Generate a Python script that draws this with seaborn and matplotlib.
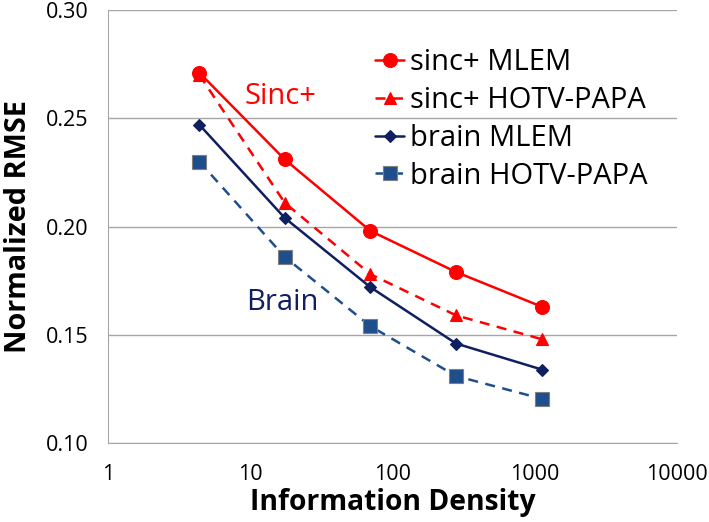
import matplotlib
matplotlib.use("Agg")
import matplotlib.pyplot as plt
import seaborn as sns
import pandas as pd

# values
density = [4.4, 17.5, 70, 280, 1120]
sinc_mlem = [0.271, 0.231, 0.198, 0.179, 0.163]
sinc_hotv = [0.270, 0.211, 0.178, 0.159, 0.148]
brain_mlem = [0.247, 0.204, 0.172, 0.146, 0.134]
brain_hotv = [0.230, 0.186, 0.154, 0.131, 0.1205]
series_names = ["sinc+ MLEM", "sinc+ HOTV-PAPA", "brain MLEM", "brain HOTV-PAPA"]

RED = "#FF0000"
NAVY = "#0F1F5F"
BLUE = "#1F4E8C"

styles = {
    "sinc+ MLEM": dict(color=RED, marker="o", ls="-", ms=10),
    "sinc+ HOTV-PAPA": dict(color=RED, marker="^", ls=(0, (4, 3)), ms=9),
    "brain MLEM": dict(color=NAVY, marker="D", ls="-", ms=6.5),
    "brain HOTV-PAPA": dict(color=BLUE, marker="s", ls=(0, (4, 3)), ms=9.5),
}

rows = []
for name, vals in zip(series_names, [sinc_mlem, sinc_hotv, brain_mlem, brain_hotv]):
    for d, v in zip(density, vals):
        rows.append({"density": d, "rmse": v, "series": name})
df = pd.DataFrame(rows)

sns.set_style("white")
plt.rcParams["font.family"] = ["Open Sans", "DejaVu Sans"]
plt.rcParams["text.color"] = "black"
plt.rcParams["axes.labelcolor"] = "black"
plt.rcParams["xtick.color"] = "#A6A6A6"
plt.rcParams["ytick.color"] = "#A6A6A6"
plt.rcParams["xtick.labelcolor"] = "black"
plt.rcParams["ytick.labelcolor"] = "black"

fig = plt.figure(figsize=(7.09, 5.22), dpi=100)
ax = fig.add_axes([0.152, 0.151, 0.803, 0.830])

for name in series_names:
    st = styles[name]
    sns.lineplot(data=df[df["series"] == name], x="density", y="rmse", ax=ax,
                 color=st["color"], linestyle=st["ls"], linewidth=1.8,
                 marker=st["marker"], markersize=st["ms"],
                 markeredgecolor="#7F7F7F" if name == "brain HOTV-PAPA" else st["color"],
                 markeredgewidth=0.8, label=name)

ax.set_xscale("log")
ax.set_xlim(1, 10000)
ax.set_ylim(0.10, 0.30)
ax.set_yticks([0.10, 0.15, 0.20, 0.25, 0.30])
ax.set_yticklabels(["0.10", "0.15", "0.20", "0.25", "0.30"])
ax.set_xticks([1, 10, 100, 1000, 10000])
ax.set_xticklabels(["1", "10", "100", "1000", "10000"])
ax.minorticks_off()
ax.grid(axis="y", color="#A6A6A6", linewidth=1)
ax.set_axisbelow(True)
for s in ["top", "right"]:
    ax.spines[s].set_visible(False)
ax.spines["left"].set_color("#A6A6A6")
ax.spines["bottom"].set_color("#A6A6A6")
ax.tick_params(axis="x", direction="out", length=5, width=1, labelsize=15.5, pad=10)
ax.tick_params(axis="y", direction="out", length=6, width=1, labelsize=15.5, pad=8)

ax.set_xlabel("Information Density", fontsize=20.3, fontweight="bold", labelpad=2)
ax.set_ylabel("Normalized RMSE", fontsize=20.8, fontweight="bold", labelpad=9)

ax.text(16.3, 0.260, "Sinc+", color=RED, fontsize=21, ha="center", va="center")
ax.text(16.9, 0.165, "Brain", color=NAVY, fontsize=21, ha="center", va="center")

ax.legend(loc="upper left", bbox_to_anchor=(0.449, 0.938), frameon=False, fontsize=21,
          handlelength=1.0, handletextpad=0.2, labelspacing=0.3, borderaxespad=0)

fig.savefig("out.png", dpi=100)
